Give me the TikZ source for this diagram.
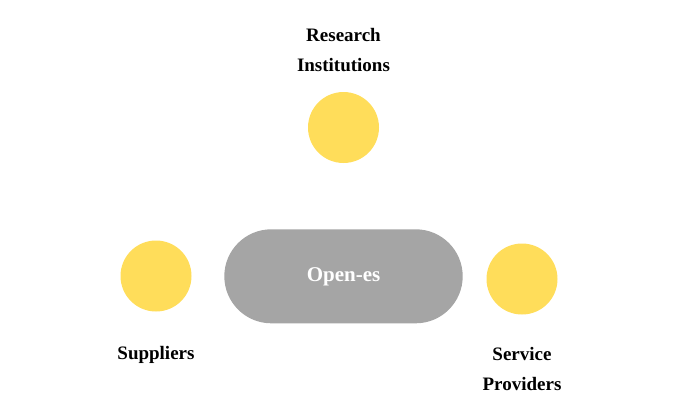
\documentclass[tikz,border=0pt]{standalone}
\usepackage{fontspec}
\setmainfont{Liberation Serif}
\definecolor{sunny}{HTML}{FFDD5A}
\definecolor{pillgray}{HTML}{A5A5A5}
\begin{document}
\begin{tikzpicture}[x=1pt,y=-1pt,
  dot/.style={circle,fill=sunny,minimum size=71pt,inner sep=0pt},
  lbl/.style={font=\fontsize{19}{30}\selectfont\bfseries,text=black,anchor=base,align=center,inner sep=0pt},
  pill/.style={rectangle,rounded corners=47pt,fill=pillgray,minimum width=238.4pt,minimum height=94pt,inner sep=0pt,text=white,font=\fontsize{21}{24}\selectfont\bfseries}]
\useasboundingbox (0,0) rectangle (688,416);
\node[pill] (open) at (343.5,276.3) {Open-es};
\node[dot] (research) at (343.5,127.5) {};
\node[dot] (suppliers) at (156,276) {};
\node[dot] (service) at (522,279) {};
\node[lbl] (researchlbl) at (343.5,41.5) {Research};
\node[lbl] (institutionslbl) at (343.5,71.5) {Institutions};
\node[lbl] (supplierslbl) at (156,359.5) {Suppliers};
\node[lbl] (servicelbl) at (522,360.5) {Service};
\node[lbl] (providerslbl) at (522,390) {Providers};
\end{tikzpicture}
\end{document}
